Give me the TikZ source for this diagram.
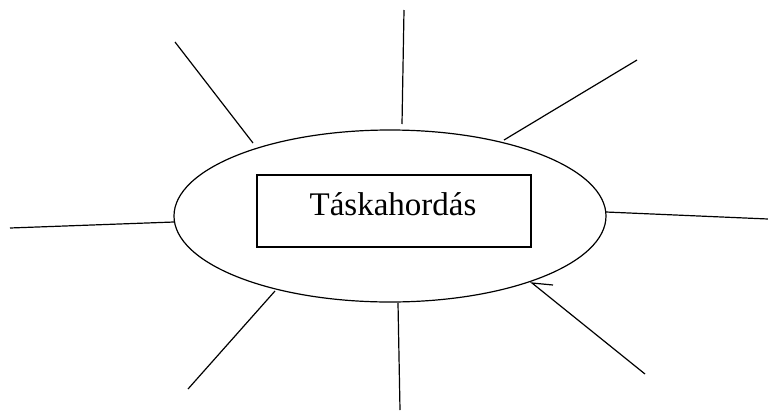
\documentclass[tikz,border=0pt]{standalone}
\usepackage{fontspec}
\setmainfont{Liberation Serif}
\usetikzlibrary{shapes.geometric}
\begin{document}
\begin{tikzpicture}[x=1pt,y=1pt,
  ln/.style={line width=1.2pt, black},
  oval/.style={draw, ellipse, line width=1.2pt, minimum width=432pt, minimum height=172pt, inner sep=0pt},
  box/.style={draw, rectangle, line width=1.2pt, minimum width=274pt, minimum height=72pt, inner sep=0pt},
  lbl/.style={font=\fontsize{33}{36}\selectfont, inner sep=0pt, anchor=base}]
\useasboundingbox (0,0) rectangle (768,-410);
\node[oval] (e) at (390,-216) {};
\node[box] (b) at (394,-211) {};
\node[lbl] (t) at (393,-215) {Táskahordás};
% outer ends
\coordinate (o1) at (404,-10);
\coordinate (i1) at (402,-124);
\coordinate (o2) at (637,-60);
\coordinate (i2) at (504,-140);
\coordinate (o3) at (768,-219);
\coordinate (i3) at (606,-212);
\coordinate (o4) at (645,-374);
\coordinate (i4) at (532,-283);
\coordinate (k4) at (553,-285);
\coordinate (o5) at (400,-410);
\coordinate (i5) at (398,-303);
\coordinate (o6) at (188,-389);
\coordinate (i6) at (275,-291);
\coordinate (o7) at (10,-228);
\coordinate (i7) at (174,-222);
\coordinate (o8) at (175,-42);
\coordinate (i8) at (253,-143);
\draw[ln] (o1) -- (i1);
\draw[ln] (o2) -- (i2);
\draw[ln] (o3) -- (i3);
\draw[ln] (o4) -- (i4) -- (k4);
\draw[ln] (o5) -- (i5);
\draw[ln] (o6) -- (i6);
\draw[ln] (o7) -- (i7);
\draw[ln] (o8) -- (i8);
\end{tikzpicture}
\end{document}
